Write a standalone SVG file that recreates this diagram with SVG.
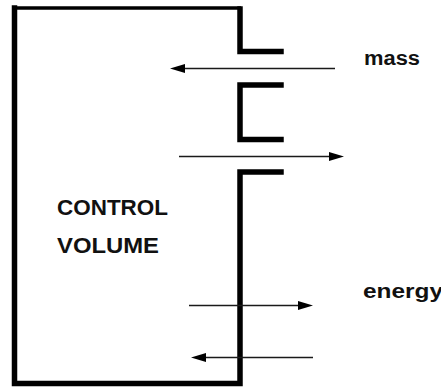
<svg xmlns="http://www.w3.org/2000/svg" width="441" height="387" viewBox="0 0 441 387">
  <style>
    .wall { fill: none; stroke: #000; stroke-width: 5.5; stroke-linecap: square; stroke-linejoin: miter; }
    .top { fill: none; stroke: #000; stroke-width: 3.5; }
    .flow { stroke: #1a1a1a; stroke-width: 1.4; fill: none; }
    .head { fill: #000; }
    .lbl { font-family: "Liberation Sans", Arial, sans-serif; font-weight: bold; fill: #111; }
  </style>
  <rect width="441" height="387" fill="#fff"/>
  <g id="control-volume">
    <path class="top" d="M14.5 8 H241"/>
    <path class="wall" d="M14.5 8 V383.5 H240 V172 H281"/>
    <path class="wall" d="M240 9 V51.5 H281"/>
    <path class="wall" d="M281 85 H240 V139.5 H281"/>
    <text class="lbl" x="57" y="215" font-size="22" textLength="111" lengthAdjust="spacingAndGlyphs">CONTROL</text>
    <text class="lbl" x="57" y="253" font-size="22" textLength="102" lengthAdjust="spacingAndGlyphs">VOLUME</text>
  </g>
  <g id="label-mass">
    <text class="lbl" x="364" y="65" font-size="20" textLength="56" lengthAdjust="spacingAndGlyphs">mass</text>
  </g>
  <g id="label-energy">
    <text class="lbl" x="363" y="298" font-size="20" textLength="80" lengthAdjust="spacingAndGlyphs">energy</text>
  </g>
  <g id="connectors">
    <line class="flow" x1="335" y1="68.5" x2="184" y2="68.5"/>
    <polygon class="head" points="170,68.5 185,64 185,73"/>
    <line class="flow" x1="179" y1="156.5" x2="330" y2="156.5"/>
    <polygon class="head" points="344,156.5 329,152 329,161"/>
    <line class="flow" x1="189" y1="305.5" x2="299" y2="305.5"/>
    <polygon class="head" points="313,305.5 298,301 298,310"/>
    <line class="flow" x1="313" y1="357.5" x2="203" y2="357.5"/>
    <polygon class="head" points="191,357.5 206,353 206,362"/>
  </g>
</svg>
